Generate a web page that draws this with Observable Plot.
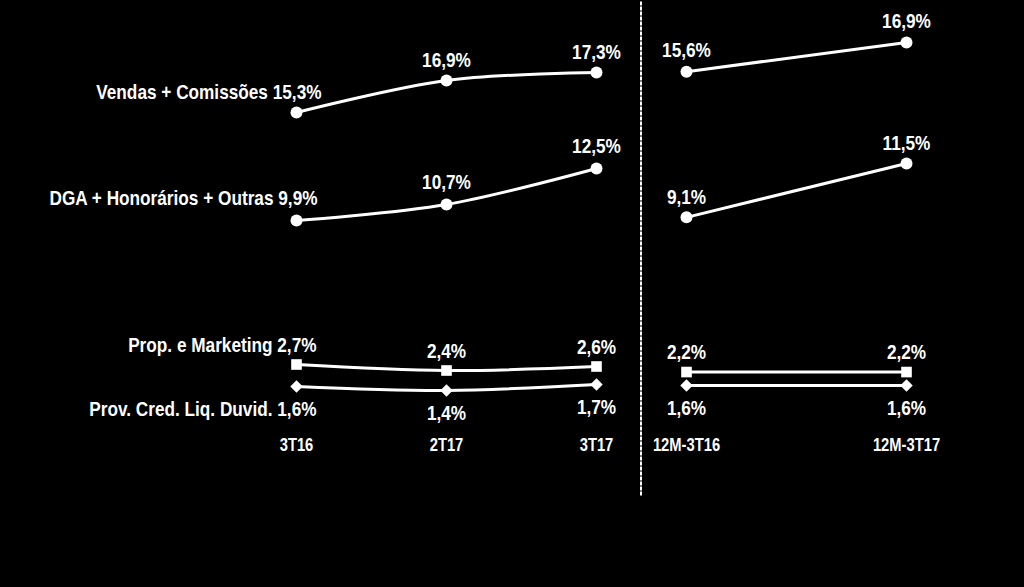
<!DOCTYPE html>
<html>
<head>
<meta charset="utf-8">
<script src="https://cdn.jsdelivr.net/npm/d3@7"></script>
<script src="https://cdn.jsdelivr.net/npm/@observablehq/plot@0.6"></script>
<style>
  html, body { margin: 0; padding: 0; background: #000; }
  #chart { position: relative; width: 1024px; height: 587px; display: flex; background: #000; overflow: hidden; }
  #chart svg { display: block; }
</style>
</head>
<body>
<div id="chart"></div>
<script>
// ---- Data ----
const quarters = ["3T16", "2T17", "3T17"];
const periods12m = ["12M-3T16", "12M-3T17"];
const seriesNames = ["Vendas + Comissões", "DGA + Honorários + Outras", "Prop. e Marketing", "Prov. Cred. Liq. Duvid."];
const vendasQ = [15.3, 16.9, 17.3];
const dgaQ = [9.9, 10.7, 12.5];
const propQ = [2.7, 2.4, 2.6];
const provQ = [1.6, 1.4, 1.7];
const vendas12 = [15.6, 16.9];
const dga12 = [9.1, 11.5];
const prop12 = [2.2, 2.2];
const prov12 = [1.6, 1.6];

// ---- Styling config ----
const symbols = ["circle", "circle", "square", "diamond2"];
const symbolR = [6, 6, 6, 5.6];
const labelDyQ = [-20, -22, -19, 23];
const labelDy12 = [-21, -20, -20, 23];
const firstDx = [25, 21, 20, 20];
const FONT = "'Liberation Sans', Arial, sans-serif";
const NARROW = 0.82; // condense glyphs horizontally (Arial Narrow look)

const fmt = v => d3.format(".1f")(v).replace(".", ",") + "%";

function rows(periods, valueArrays) {
  return seriesNames.flatMap((s, i) => periods.map((p, j) => ({
    series: s, si: i, period: p, pi: j, value: valueArrays[i][j]
  })));
}
const qRows = rows(quarters, [vendasQ, dgaQ, propQ, provQ]);
const mRows = rows(periods12m, [vendas12, dga12, prop12, prov12]);

function marks(data, periods, curve, labelDy, withNames) {
  const m = [];
  seriesNames.forEach((s, i) => {
    const d = data.filter(r => r.si === i);
    m.push(Plot.line(d, {x: "period", y: "value", stroke: "white", strokeWidth: 3, curve}));
    m.push(Plot.dot(d, {x: "period", y: "value", symbol: symbols[i], r: symbolR[i], fill: "white", stroke: "none"}));
    d.forEach((r, j) => {
      const isFirst = withNames && j === 0;
      m.push(Plot.text([r], {
        x: "period", y: "value",
        text: isFirst ? (x => x.series + " " + fmt(x.value)) : (x => fmt(x.value)),
        textAnchor: isFirst ? "end" : "middle",
        dx: isFirst ? firstDx[i] : 0,
        dy: labelDy[i],
        fill: "white", fontSize: 21, fontWeight: "bold", lineAnchor: "middle"
      }));
    });
  });
  m.push(Plot.text(periods, {x: d => d, frameAnchor: "bottom", dy: -50, text: d => d,
    fill: "white", fontSize: 18, fontWeight: "bold", lineAnchor: "middle"}));
  return m;
}

function condense(svg) {
  svg.querySelectorAll("text").forEach(t => {
    const tr = t.getAttribute("transform") || "";
    t.setAttribute("transform", `${tr} scale(${NARROW},1)`);
  });
  return svg;
}

const left = Plot.plot({
  width: 640, height: 587,
  marginTop: 0, marginBottom: 92, marginLeft: 0, marginRight: 0,
  style: {background: "transparent", color: "white", fontFamily: FONT, overflow: "visible"},
  x: {type: "point", domain: quarters, range: [295, 596], padding: 0, axis: null},
  y: {domain: [1.6, 17.3], range: [386, 72], axis: null},
  marks: marks(qRows, quarters, "catmull-rom", labelDyQ, true)
});

const right = Plot.plot({
  width: 384, height: 587,
  marginTop: 2, marginBottom: 92, marginLeft: 0, marginRight: 0,
  style: {background: "transparent", color: "white", fontFamily: FONT, overflow: "visible"},
  x: {type: "point", domain: periods12m, range: [46, 266], padding: 0, axis: null},
  y: {domain: [1.6, 16.9], range: [385, 42], axis: null},
  marks: [
    Plot.frame({anchor: "left", stroke: "white", strokeWidth: 2, strokeDasharray: "2,3", dx: 0.5}),
    ...marks(mRows, periods12m, "linear", labelDy12, false)
  ]
});

document.getElementById("chart").append(condense(left), condense(right));
</script>
</body>
</html>
